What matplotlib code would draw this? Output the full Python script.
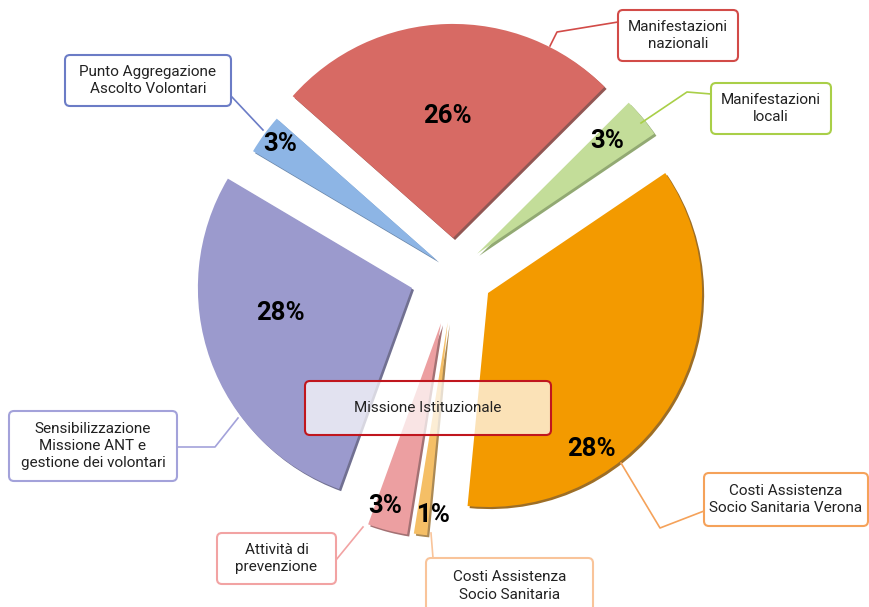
import matplotlib
matplotlib.use("Agg")
import matplotlib.pyplot as plt
import matplotlib.patheffects as pe
from matplotlib.patches import FancyBboxPatch

plt.rcParams['font.family'] = ['Roboto', 'DejaVu Sans']

W, H = 870, 607

# slices, clockwise from the top
categories = ['Manifestazioni\nnazionali',
              'Manifestazioni\nlocali',
              'Costi Assistenza\nSocio Sanitaria Verona',
              'Costi Assistenza\nSocio Sanitaria',
              'Attività di\nprevenzione',
              'Sensibilizzazione\nMissione ANT e\ngestione dei volontari',
              'Punto Aggregazione\nAscolto Volontari']
shares = [26, 3, 36, 1, 3, 28, 3]          # angular share as drawn in the chart
pct_labels = ['26%', '3%', '28%', '1%', '3%', '28%', '3%']
center_label = 'Missione Istituzionale'

colors = ['#D76A64', '#C3DD99', '#F39A00', '#F5BF66', '#EC9FA1', '#9B9ACD', '#8DB5E5']
shades = ['#7E3A36', '#7F9A5A', '#8C5500', '#9C7436', '#93585B', '#58577E', '#50719A']
box_edges = ['#D24B48', '#A9CF48', '#F5A25A', '#F9C49A', '#F2A3A3', '#A3A2DA', '#6B7CC6']
explode = [0.163, 0.14, 0.185, 0.233, 0.243, 0.209, 0.098]

# layout in pixels (origin top-left)
R = 214
cx, cy = 454, 272.8
pct_pos = [(447, 116), (607, 141), (591, 449), (434, 515), (385, 506), (280, 313), (280, 144)]
boxes = [(618, 10, 738, 61), (711, 83, 831, 134), (704, 473, 868, 526),
         (426, 558, 593, 614), (217, 533, 336, 584), (9, 411, 177, 481), (65, 55, 231, 106)]
leaders = [[(618, 22), (557, 32), (550, 46)],
           [(711, 94), (687, 92), (641, 123)],
           [(704, 511), (660, 528), (621, 463)],
           [(433, 558), (431, 533)],
           [(336, 560), (363, 527)],
           [(177, 447), (215, 447), (238, 418)],
           [(231, 96), (263, 130)]]
center_box = (305, 381, 551, 435)

fig = plt.figure(figsize=(W / 100, H / 100), dpi=100)

ax = fig.add_axes([0, 0, 1, 1])
wedges, _ = ax.pie(shares, colors=colors, explode=explode, startangle=138.5,
                   counterclock=False, radius=1, center=(0, 0))
for w, s in zip(wedges, shades):
    # fake bevel: darker rim on the lower right side
    w.set_path_effects([pe.SimplePatchShadow(offset=(1.5, -1.5), shadow_rgbFace=s, alpha=0.85),
                        pe.Normal()])
ax.set_aspect('auto')
ax.set_xlim(-cx / R, (W - cx) / R)
ax.set_ylim(-(H - cy) / R, cy / R)
ax.axis('off')

ov = fig.add_axes([0, 0, 1, 1])
ov.set_xlim(0, W)
ov.set_ylim(H, 0)
ov.axis('off')
ov.patch.set_alpha(0)

for i in range(len(categories)):
    xs = [p[0] for p in leaders[i]]
    ys = [p[1] for p in leaders[i]]
    ov.plot(xs, ys, color=box_edges[i], lw=1.2, zorder=2)
    x0, y0, x1, y1 = boxes[i]
    ov.add_patch(FancyBboxPatch((x0, y0), x1 - x0, y1 - y0,
                                boxstyle="round,pad=0,rounding_size=5",
                                fc='white', ec=box_edges[i], lw=1.5, zorder=3))
    ov.text((x0 + x1) / 2, (y0 + y1) / 2, categories[i], ha='center', va='center',
            fontsize=11, color='#222222', linespacing=1.3, zorder=4)
    ov.text(pct_pos[i][0], pct_pos[i][1], pct_labels[i], ha='center', va='center',
            fontsize=18.5, fontweight='bold', color='black', zorder=5)

x0, y0, x1, y1 = center_box
ov.add_patch(FancyBboxPatch((x0, y0), x1 - x0, y1 - y0,
                            boxstyle="round,pad=0,rounding_size=5",
                            fc=(1, 1, 1, 0.72), ec='#C0161E', lw=1.5, zorder=3))
ov.text((x0 + x1) / 2, (y0 + y1) / 2, center_label, ha='center', va='center',
        fontsize=11, color='#222222', zorder=4)

fig.savefig('out.png', dpi=100)
